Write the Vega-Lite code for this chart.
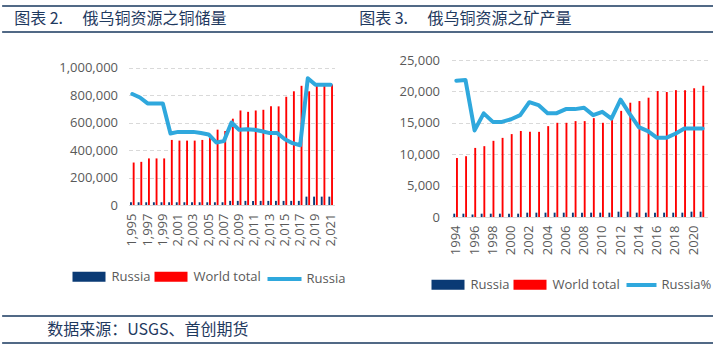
{
  "$schema": "https://vega.github.io/schema/vega-lite/v6.json",
  "padding": {"left": 0, "top": 5, "right": 0, "bottom": 0},
  "datasets": {
    "reserves": [
      {"year": 1995, "series": "Russia", "value": 20000}, {"year": 1995, "series": "World total", "value": 310000},
      {"year": 1996, "series": "Russia", "value": 20000}, {"year": 1996, "series": "World total", "value": 315000},
      {"year": 1997, "series": "Russia", "value": 20000}, {"year": 1997, "series": "World total", "value": 340000},
      {"year": 1998, "series": "Russia", "value": 20000}, {"year": 1998, "series": "World total", "value": 340000},
      {"year": 1999, "series": "Russia", "value": 20000}, {"year": 1999, "series": "World total", "value": 340000},
      {"year": 2000, "series": "Russia", "value": 20000}, {"year": 2000, "series": "World total", "value": 475000},
      {"year": 2001, "series": "Russia", "value": 20000}, {"year": 2001, "series": "World total", "value": 470000},
      {"year": 2002, "series": "Russia", "value": 20000}, {"year": 2002, "series": "World total", "value": 470000},
      {"year": 2003, "series": "Russia", "value": 20000}, {"year": 2003, "series": "World total", "value": 470000},
      {"year": 2004, "series": "Russia", "value": 20000}, {"year": 2004, "series": "World total", "value": 475000},
      {"year": 2005, "series": "Russia", "value": 20000}, {"year": 2005, "series": "World total", "value": 490000},
      {"year": 2006, "series": "Russia", "value": 20000}, {"year": 2006, "series": "World total", "value": 550000},
      {"year": 2007, "series": "Russia", "value": 20000}, {"year": 2007, "series": "World total", "value": 540000},
      {"year": 2008, "series": "Russia", "value": 30000}, {"year": 2008, "series": "World total", "value": 630000},
      {"year": 2009, "series": "Russia", "value": 30000}, {"year": 2009, "series": "World total", "value": 690000},
      {"year": 2010, "series": "Russia", "value": 30000}, {"year": 2010, "series": "World total", "value": 680000},
      {"year": 2011, "series": "Russia", "value": 30000}, {"year": 2011, "series": "World total", "value": 690000},
      {"year": 2012, "series": "Russia", "value": 30000}, {"year": 2012, "series": "World total", "value": 695000},
      {"year": 2013, "series": "Russia", "value": 30000}, {"year": 2013, "series": "World total", "value": 720000},
      {"year": 2014, "series": "Russia", "value": 30000}, {"year": 2014, "series": "World total", "value": 720000},
      {"year": 2015, "series": "Russia", "value": 30000}, {"year": 2015, "series": "World total", "value": 790000},
      {"year": 2016, "series": "Russia", "value": 30000}, {"year": 2016, "series": "World total", "value": 830000},
      {"year": 2017, "series": "Russia", "value": 30000}, {"year": 2017, "series": "World total", "value": 870000},
      {"year": 2018, "series": "Russia", "value": 61000}, {"year": 2018, "series": "World total", "value": 830000},
      {"year": 2019, "series": "Russia", "value": 61000}, {"year": 2019, "series": "World total", "value": 880000},
      {"year": 2020, "series": "Russia", "value": 61000}, {"year": 2020, "series": "World total", "value": 880000},
      {"year": 2021, "series": "Russia", "value": 61000}, {"year": 2021, "series": "World total", "value": 880000}
    ],
    "reserveShare": [
      {"year": 1995, "share": 6.48}, {"year": 1996, "share": 6.28}, {"year": 1997, "share": 5.93},
      {"year": 1998, "share": 5.93}, {"year": 1999, "share": 5.93}, {"year": 2000, "share": 4.18},
      {"year": 2001, "share": 4.27}, {"year": 2002, "share": 4.27}, {"year": 2003, "share": 4.27},
      {"year": 2004, "share": 4.2}, {"year": 2005, "share": 4.12}, {"year": 2006, "share": 3.65},
      {"year": 2007, "share": 3.73}, {"year": 2008, "share": 4.82}, {"year": 2009, "share": 4.39},
      {"year": 2010, "share": 4.43}, {"year": 2011, "share": 4.39}, {"year": 2012, "share": 4.31},
      {"year": 2013, "share": 4.2}, {"year": 2014, "share": 4.2}, {"year": 2015, "share": 3.84},
      {"year": 2016, "share": 3.61}, {"year": 2017, "share": 3.49}, {"year": 2018, "share": 7.4},
      {"year": 2019, "share": 7.02}, {"year": 2020, "share": 7.02}, {"year": 2021, "share": 7.02}
    ],
    "production": [
      {"year": 1994, "series": "Russia", "value": 530}, {"year": 1994, "series": "World total", "value": 9410},
      {"year": 1995, "series": "Russia", "value": 530}, {"year": 1995, "series": "World total", "value": 9680},
      {"year": 1996, "series": "Russia", "value": 400}, {"year": 1996, "series": "World total", "value": 11000},
      {"year": 1997, "series": "Russia", "value": 530}, {"year": 1997, "series": "World total", "value": 11280},
      {"year": 1998, "series": "Russia", "value": 530}, {"year": 1998, "series": "World total", "value": 12130},
      {"year": 1999, "series": "Russia", "value": 530}, {"year": 1999, "series": "World total", "value": 12600},
      {"year": 2000, "series": "Russia", "value": 530}, {"year": 2000, "series": "World total", "value": 13200},
      {"year": 2001, "series": "Russia", "value": 530}, {"year": 2001, "series": "World total", "value": 13700},
      {"year": 2002, "series": "Russia", "value": 690}, {"year": 2002, "series": "World total", "value": 13560},
      {"year": 2003, "series": "Russia", "value": 690}, {"year": 2003, "series": "World total", "value": 13560},
      {"year": 2004, "series": "Russia", "value": 690}, {"year": 2004, "series": "World total", "value": 14470},
      {"year": 2005, "series": "Russia", "value": 690}, {"year": 2005, "series": "World total", "value": 15000},
      {"year": 2006, "series": "Russia", "value": 690}, {"year": 2006, "series": "World total", "value": 15000},
      {"year": 2007, "series": "Russia", "value": 690}, {"year": 2007, "series": "World total", "value": 15270},
      {"year": 2008, "series": "Russia", "value": 690}, {"year": 2008, "series": "World total", "value": 15270},
      {"year": 2009, "series": "Russia", "value": 690}, {"year": 2009, "series": "World total", "value": 15740},
      {"year": 2010, "series": "Russia", "value": 690}, {"year": 2010, "series": "World total", "value": 15000},
      {"year": 2011, "series": "Russia", "value": 690}, {"year": 2011, "series": "World total", "value": 16060},
      {"year": 2012, "series": "Russia", "value": 850}, {"year": 2012, "series": "World total", "value": 16900},
      {"year": 2013, "series": "Russia", "value": 850}, {"year": 2013, "series": "World total", "value": 18200},
      {"year": 2014, "series": "Russia", "value": 690}, {"year": 2014, "series": "World total", "value": 18460},
      {"year": 2015, "series": "Russia", "value": 690}, {"year": 2015, "series": "World total", "value": 19000},
      {"year": 2016, "series": "Russia", "value": 690}, {"year": 2016, "series": "World total", "value": 20050},
      {"year": 2017, "series": "Russia", "value": 690}, {"year": 2017, "series": "World total", "value": 19900},
      {"year": 2018, "series": "Russia", "value": 690}, {"year": 2018, "series": "World total", "value": 20200},
      {"year": 2019, "series": "Russia", "value": 690}, {"year": 2019, "series": "World total", "value": 20200},
      {"year": 2020, "series": "Russia", "value": 850}, {"year": 2020, "series": "World total", "value": 20500},
      {"year": 2021, "series": "Russia", "value": 850}, {"year": 2021, "series": "World total", "value": 20900}
    ],
    "productionShare": [
      {"year": 1994, "share": 6.08}, {"year": 1995, "share": 6.11}, {"year": 1996, "share": 3.86},
      {"year": 1997, "share": 4.62}, {"year": 1998, "share": 4.24}, {"year": 1999, "share": 4.24},
      {"year": 2000, "share": 4.36}, {"year": 2001, "share": 4.54}, {"year": 2002, "share": 5.12},
      {"year": 2003, "share": 4.99}, {"year": 2004, "share": 4.63}, {"year": 2005, "share": 4.63},
      {"year": 2006, "share": 4.81}, {"year": 2007, "share": 4.81}, {"year": 2008, "share": 4.87},
      {"year": 2009, "share": 4.54}, {"year": 2010, "share": 4.69}, {"year": 2011, "share": 4.39},
      {"year": 2012, "share": 5.23}, {"year": 2013, "share": 4.6}, {"year": 2014, "share": 4.01},
      {"year": 2015, "share": 3.83}, {"year": 2016, "share": 3.53}, {"year": 2017, "share": 3.53},
      {"year": 2018, "share": 3.71}, {"year": 2019, "share": 3.95}, {"year": 2020, "share": 3.95},
      {"year": 2021, "share": 3.95}
    ],
    "edges": [{"edge": 0}, {"edge": 1}],
    "titles": [
      {"panel": "a", "title": "图表 2.\u3000  俄乌铜资源之铜储量"},
      {"panel": "b", "title": "图表 3.\u3000  俄乌铜资源之矿产量"}
    ],
    "source": [{"note": "数据来源：USGS、首创期货"}]
  },
  "concat": [
    {
      "width": 835,
      "height": 26,
      "layer": [
        {
          "data": {"name": "edges"},
          "mark": {"type": "rule", "color": "#17375E", "strokeWidth": 1.5},
          "encoding": {"y": {"field": "edge", "type": "quantitative", "scale": {"domain": [0, 1]}, "axis": null}}
        },
        {
          "data": {"name": "titles"},
          "mark": {"type": "text", "align": "left", "baseline": "middle", "font": "Noto Sans CJK SC", "fontSize": 16, "color": "#1F3A5F"},
          "encoding": {
            "x": {"field": "panel", "type": "nominal", "scale": {"type": "point", "range": [12, 357], "padding": 0}, "axis": null},
            "text": {"field": "title"}
          }
        }
      ]
    },
    {
      "hconcat": [
        {
          "width": 206,
          "height": 145,
          "layer": [
            {
              "data": {"name": "reserves"},
              "mark": {"type": "bar"},
              "encoding": {
                "x": {"field": "year", "type": "ordinal", "scale": {"paddingInner": 0.4, "paddingOuter": 0.2},
                  "axis": {"values": [1995,1997,1999,2001,2003,2005,2007,2009,2011,2013,2015,2017,2019,2021], "labelExpr": "format(datum.value, ',')", "labelAngle": 270, "ticks": false, "domainColor": "#D9D9D9", "labelPadding": 8, "title": null, "labelOverlap": false, "grid": false}},
                "xOffset": {"field": "series", "type": "nominal", "scale": {"domain": ["Russia", "World total"], "paddingInner": 0.3}},
                "y": {"field": "value", "type": "quantitative", "scale": {"domain": [0, 1058394], "nice": false},
                  "axis": {"values": [0, 200000, 400000, 600000, 800000, 1000000], "format": ",.0f", "grid": true, "gridDash": [4, 3], "gridColor": "#D9D9D9", "domain": false, "ticks": false, "labelPadding": 11, "minExtent": 128, "title": null}},
                "color": {"field": "series", "type": "nominal", "scale": {"domain": ["Russia", "World total"], "range": ["#0A3A75", "#FF0000"]},
                  "legend": {"orient": "none", "legendX": -56, "legendY": 200, "direction": "horizontal", "title": null, "symbolType": "M-1,-0.3H1V0.3H-1Z", "symbolSize": 1089, "symbolStrokeWidth": 0, "labelOffset": 6, "columnPadding": 4}}
              }
            },
            {
              "data": {"name": "reserveShare"},
              "mark": {"type": "line", "strokeWidth": 4, "strokeJoin": "round", "strokeCap": "round"},
              "encoding": {
                "x": {"field": "year", "type": "ordinal"},
                "y": {"field": "share", "type": "quantitative", "scale": {"domain": [0, 8.467], "nice": false}, "axis": null},
                "stroke": {"datum": "Russia", "type": "nominal", "scale": {"domain": ["Russia"], "range": ["#2FA8DD"]},
                  "legend": {"orient": "none", "legendX": 137, "legendY": 200, "direction": "horizontal", "title": null, "symbolType": "stroke", "symbolSize": 1156, "symbolStrokeWidth": 4, "labelOffset": 3}}
              }
            }
          ],
          "resolve": {"scale": {"y": "independent"}}
        },
        {
          "width": 256,
          "height": 157,
          "layer": [
            {
              "data": {"name": "production"},
              "mark": {"type": "bar"},
              "encoding": {
                "x": {"field": "year", "type": "ordinal", "scale": {"paddingInner": 0.34, "paddingOuter": 0.2},
                  "axis": {"values": [1994,1996,1998,2000,2002,2004,2006,2008,2010,2012,2014,2016,2018,2020], "labelAngle": 270, "ticks": false, "domainColor": "#D9D9D9", "labelPadding": 8, "title": null, "labelOverlap": false, "grid": false}},
                "xOffset": {"field": "series", "type": "nominal", "scale": {"domain": ["Russia", "World total"], "paddingInner": 0}},
                "y": {"field": "value", "type": "quantitative", "scale": {"domain": [0, 25000], "nice": false},
                  "axis": {"values": [0, 5000, 10000, 15000, 20000, 25000], "format": ",.0f", "grid": true, "gridDash": [4, 3], "gridColor": "#D9D9D9", "domain": false, "ticks": false, "labelPadding": 12, "minExtent": 106, "title": null}},
                "color": {"field": "series", "type": "nominal", "scale": {"domain": ["Russia", "World total"], "range": ["#0A3A75", "#FF0000"]},
                  "legend": {"orient": "none", "legendX": -22, "legendY": 206, "padding": 2, "direction": "horizontal", "title": null, "symbolType": "M-1,-0.3H1V0.3H-1Z", "symbolSize": 1089, "symbolStrokeWidth": 0, "labelOffset": 6, "columnPadding": 4}}
              }
            },
            {
              "data": {"name": "productionShare"},
              "mark": {"type": "line", "strokeWidth": 4, "strokeJoin": "round", "strokeCap": "round"},
              "encoding": {
                "x": {"field": "year", "type": "ordinal"},
                "y": {"field": "share", "type": "quantitative", "scale": {"domain": [0, 7], "nice": false}, "axis": null},
                "stroke": {"datum": "Russia%", "type": "nominal", "scale": {"domain": ["Russia%"], "range": ["#2FA8DD"]},
                  "legend": {"orient": "none", "legendX": 173, "legendY": 208, "direction": "horizontal", "title": null, "symbolType": "stroke", "symbolSize": 900, "symbolStrokeWidth": 4, "labelOffset": 3}}
              }
            }
          ],
          "resolve": {"scale": {"y": "independent"}}
        }
      ],
      "spacing": 0,
      "resolve": {"scale": {"color": "independent", "stroke": "independent", "x": "independent", "y": "independent"}}
    },
    {
      "width": 835,
      "height": 27,
      "layer": [
        {
          "data": {"name": "edges"},
          "mark": {"type": "rule", "color": "#17375E", "strokeWidth": 1.5},
          "encoding": {"y": {"field": "edge", "type": "quantitative", "scale": {"domain": [0, 1]}, "axis": null}}
        },
        {
          "data": {"name": "source"},
          "mark": {"type": "text", "align": "left", "baseline": "middle", "font": "Noto Sans CJK SC", "fontSize": 16, "color": "#1F3A5F"},
          "encoding": {
            "x": {"field": "note", "type": "nominal", "scale": {"type": "point", "range": [45, 45], "padding": 0}, "axis": null},
            "text": {"field": "note"}
          }
        }
      ]
    }
  ],
  "columns": 1,
  "center": true,
  "spacing": 21,
  "resolve": {"scale": {"x": "independent", "y": "independent"}},
  "config": {
    "view": {"stroke": null},
    "font": "Open Sans",
    "axis": {"labelFont": "Open Sans", "labelFontSize": 13, "labelColor": "#595959"},
    "legend": {"labelFont": "Open Sans", "labelFontSize": 13, "labelColor": "#595959"}
  }
}
